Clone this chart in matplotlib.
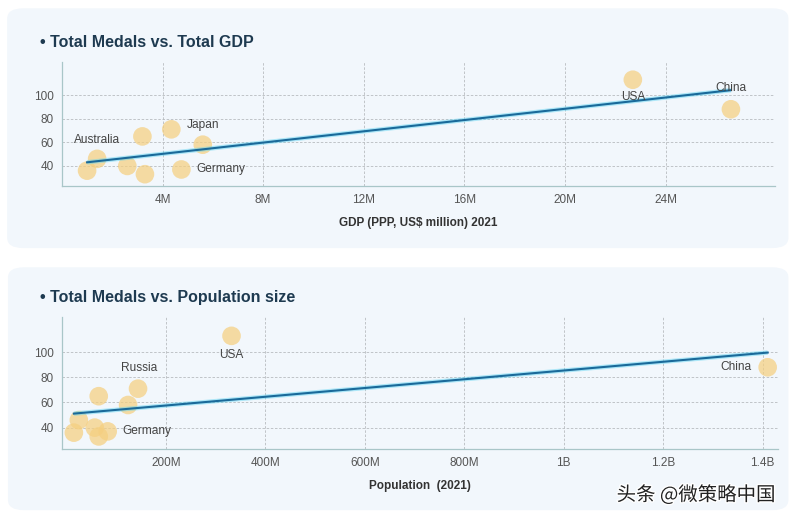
import matplotlib
matplotlib.use("Agg")
import matplotlib.pyplot as plt
from matplotlib.patches import FancyBboxPatch
from matplotlib.ticker import FuncFormatter
import matplotlib.patheffects as pe
import numpy as np

# Tokyo 2020 top-10 medal table
countries = ['USA', 'China', 'ROC', 'Great Britain', 'Japan',
             'Australia', 'Italy', 'Germany', 'Netherlands', 'France']
medals = [113, 88, 71, 65, 58, 46, 40, 37, 36, 33]
gdp_musd = [22.7e6, 26.6e6, 4.35e6, 3.2e6, 5.6e6, 1.4e6, 2.6e6, 4.75e6, 1.0e6, 3.3e6]
population = [332e6, 1410e6, 144e6, 65e6, 124e6, 25e6, 57e6, 83e6, 15e6, 65e6]

gdp_ticks = [4e6, 8e6, 12e6, 16e6, 20e6, 24e6]
pop_ticks = [200e6, 400e6, 600e6, 800e6, 1e9, 1.2e9, 1.4e9]
y_ticks = [40, 60, 80, 100]

# labels shown on each chart: country -> (dx px, dy px, ha)
gdp_labels = {'Australia': (0, 19, 'center'), 'Japan': (0, 20, 'center'),
              'Germany': (15, 0, 'left'), 'USA': (0, -17, 'center'),
              'China': (0, 21, 'center')}
pop_labels = {'USA': (0, -19, 'center'), 'ROC': (1, 21, 'center'),
              'Germany': (15, 0, 'left'), 'China': (-16, 0, 'right')}
label_text = {'ROC': 'Russia'}

plt.rcParams['font.family'] = ['Liberation Sans', 'DejaVu Sans']

DOT = '#f5cf80'
LINE = '#1a6a9a'
GLOW = '#58d2f2'
TITLE = '#1e3a50'


def fmt_big(v, pos):
    if v >= 1e9:
        s = f"{v / 1e9:.1f}".rstrip('0').rstrip('.')
        return s + 'B'
    return f"{v / 1e6:.0f}M"


def draw_panel(fig, rect, box, x, title, xlabel, xlim, xticks, labels):
    fig.patches.append(FancyBboxPatch((box[0], box[1]), box[2], box[3],
                                      boxstyle="round,pad=0,rounding_size=0.02",
                                      transform=fig.transFigure,
                                      facecolor='#f2f7fc', edgecolor='none',
                                      zorder=-1))
    ax = fig.add_axes(rect)
    ax.set_facecolor('none')
    x = np.array(x)
    y = np.array(medals)
    ax.scatter(x, y, s=180, color=DOT, alpha=0.72, edgecolors='none', zorder=3)

    k, b = np.polyfit(x, y, 1)
    xs = np.array([x.min(), x.max()])
    ax.plot(xs, k * xs + b, color=GLOW, lw=3.2, alpha=0.45, zorder=4,
            solid_capstyle='butt')
    ax.plot(xs, k * xs + b, color=LINE, lw=1.5, zorder=5)

    for name, (dx, dy, ha) in labels.items():
        i = countries.index(name)
        ax.annotate(label_text.get(name, name), (x[i], y[i]),
                    xytext=(dx, dy), textcoords='offset pixels',
                    ha=ha, va='center', fontsize=8.6, color='#444444', zorder=6)

    ax.set_xlim(*xlim)
    ax.set_ylim(23, 128)
    ax.set_xticks(xticks)
    ax.set_yticks(y_ticks)
    ax.xaxis.set_major_formatter(FuncFormatter(fmt_big))
    ax.grid(True, ls=(0, (3, 2)), lw=0.6, color='#b8bcc0')
    ax.set_axisbelow(True)
    for s in ['top', 'right']:
        ax.spines[s].set_visible(False)
    for s in ['left', 'bottom']:
        ax.spines[s].set_color('#a9c6c8')
        ax.spines[s].set_linewidth(0.9)
    ax.tick_params(length=0, labelsize=8.5, labelcolor='#555555', pad=6)
    ax.set_xlabel(xlabel, fontsize=8.5, fontweight='bold', color='#333333',
                  labelpad=8)
    fig.text(0.051, rect[1] + rect[3] + 0.038, title, fontsize=11.5,
             fontweight='bold', color=TITLE, va='center', ha='left')
    return ax


fig = plt.figure(figsize=(7.94, 5.19), dpi=100)
fig.patch.set_facecolor('white')

draw_panel(fig, [0.078, 0.6416, 0.898, 0.2389], [0.009, 0.522, 0.984, 0.462],
           gdp_musd, '• Total Medals vs. Total GDP', 'GDP (PPP, US$ million) 2021',
           (0, 28.35e6), gdp_ticks, gdp_labels)
draw_panel(fig, [0.078, 0.1349, 0.902, 0.2543], [0.010, 0.017, 0.983, 0.468],
           population, '• Total Medals vs. Population size', 'Population  (2021)',
           (-9e6, 1431e6), pop_ticks, pop_labels)

fig.text(0.877, 0.046, '头条 @微策略中国', fontsize=14, color='#222222',
         ha='center', va='center',
         family=['Noto Sans CJK SC', 'DejaVu Sans'],
         path_effects=[pe.withStroke(linewidth=2, foreground='white')])

fig.savefig('out.png', dpi=100)
